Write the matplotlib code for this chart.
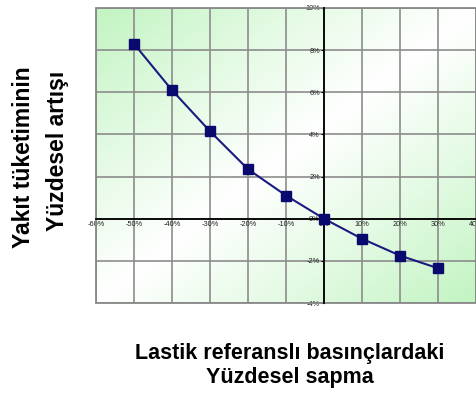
import numpy as np
import matplotlib.pyplot as plt
from matplotlib.colors import LinearSegmentedColormap
from matplotlib.patches import Rectangle

# sapma (%) ve yakit tuketimi artisi (%)
sapma = [-50, -40, -30, -20, -10, 0, 10, 20, 30]
artis = [8.3, 6.1, 4.15, 2.35, 1.1, 0.0, -0.95, -1.75, -2.35]
xticks = [-60, -50, -40, -30, -20, -10, 0, 10, 20, 30, 40]
yticks = [-4, -2, 0, 2, 4, 6, 8, 10]

fig = plt.figure(figsize=(4.77, 3.94), dpi=100)
ax = fig.add_axes([96/477, 1 - 303/394, 380/477, 295/394])
ax.set_xlim(-60, 40)
ax.set_ylim(-4, 10)

# diagonal green-white-green background
gx, gy = np.meshgrid(np.linspace(0, 1, 200), np.linspace(1, 0, 200))
t = np.abs(gx + (1 - gy) - 1)
cmap = LinearSegmentedColormap.from_list("g", ["#ffffff", "#e2fae2", "#c2f4c2"])
ax.imshow(t, extent=[-60, 40, -4, 10], aspect="auto", cmap=cmap, vmin=0, vmax=1, zorder=0)

ax.set_xticks(xticks)
ax.set_yticks(yticks)
ax.grid(True, color="#8c8c8c", linewidth=1.2, zorder=1)
ax.set_axisbelow(True)

ax.spines["left"].set_position(("data", 0))
ax.spines["bottom"].set_position(("data", 0))
ax.spines["top"].set_visible(False)
ax.spines["right"].set_visible(False)
for s in ["left", "bottom"]:
    ax.spines[s].set_linewidth(1.3)
    ax.spines[s].set_zorder(2)
ax.add_patch(Rectangle((0, 0), 1, 1, transform=ax.transAxes, fill=False,
                       edgecolor="#888888", linewidth=1.3, zorder=2, clip_on=False))

ax.set_xticklabels([f"{v}%" for v in xticks], fontsize=5.3, color="#222222", family="Liberation Sans")
ax.set_yticklabels([f"{v}%" for v in yticks], fontsize=5.3, color="#222222", family="Liberation Sans")
ax.tick_params(axis="x", length=0, pad=2)
ax.tick_params(axis="y", length=2, direction="out", pad=1)

ax.plot(sapma, artis, color="#1a1a80", linewidth=1.5, marker="s", markersize=6.5,
        markerfacecolor="#0a0a6e", markeredgecolor="#0a0a6e", zorder=3, clip_on=False)

fig.text(24/477, 1 - 157/394, "Yakıt tüketiminin", rotation=90, fontsize=16.5, fontweight="bold",
         ha="center", va="center", family="Liberation Sans")
fig.text(58/477, 1 - 151/394, "Yüzdesel artışı", rotation=90, fontsize=16.5, fontweight="bold",
         ha="center", va="center", family="Liberation Sans")
fig.text(290/477, 1 - 354/394, "Lastik referanslı basınçlardaki", fontsize=15.5, fontweight="bold",
         ha="center", va="center", family="Liberation Sans")
fig.text(290/477, 1 - 378/394, "Yüzdesel sapma", fontsize=15.5, fontweight="bold",
         ha="center", va="center", family="Liberation Sans")

fig.savefig("out.png", dpi=100)
